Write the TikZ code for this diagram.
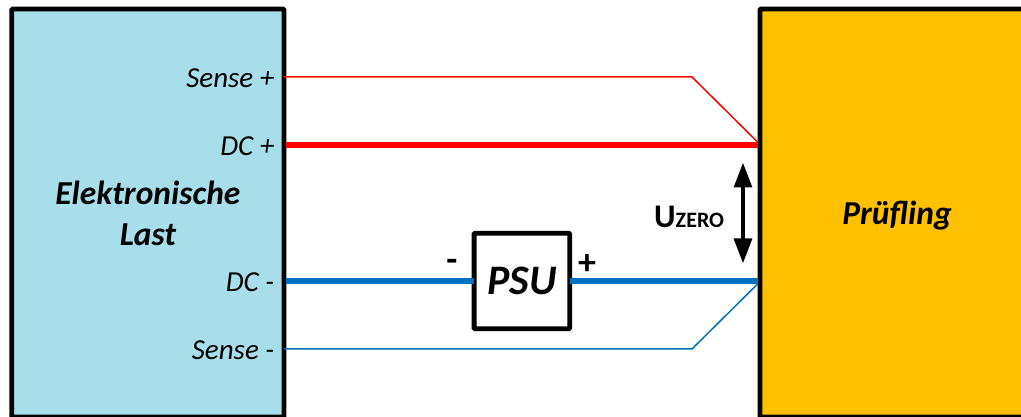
\documentclass[tikz,border=0pt]{standalone}
\usepackage{fontspec}
\setmainfont{Carlito}
\usetikzlibrary{arrows.meta}
\definecolor{lastblue}{HTML}{A7DEEA}
\definecolor{dutyellow}{HTML}{FFC000}
\definecolor{linered}{HTML}{FF0000}
\definecolor{lineblue}{HTML}{0070C0}
\tikzset{
	blockbox/.style={draw=black,line width=4.8pt,rounded corners=1pt,inner sep=0pt,outer sep=0pt,align=center,text=black},
	portlabel/.style={anchor=east,inner sep=0pt,font=\fontsize{29}{29}\selectfont\itshape},
	thinwire/.style={line width=1.5pt},
	thickwire/.style={line width=5.5pt}
}
\begin{document}
\begin{tikzpicture}[x=1pt,y=1pt]
	\useasboundingbox (0,0) rectangle (1021,417);
	\clip (0,0) rectangle (1021,417);
	% blocks
	\node[blockbox,fill=lastblue,minimum width=272.3pt,minimum height=408pt,font=\fontsize{33.5}{41}\selectfont\bfseries\itshape] (last) at (147.9,204) {Elektronische\\Last};
	\node[blockbox,fill=dutyellow,minimum width=300pt,minimum height=408pt] (dut) at (910,204) {};
	\node[inner sep=0pt,font=\fontsize{33.5}{33.5}\selectfont\bfseries\itshape] (duttext) at (897,201) {Prüfling};
	\node[blockbox,fill=white,minimum width=95.6pt,minimum height=95.6pt,font=\fontsize{42}{42}\selectfont\bfseries\itshape] (psu) at (521.9,136) {PSU};
	% ports
	\coordinate (sensep) at (284,340);
	\coordinate (dcp) at (286.4,272);
	\coordinate (dcn) at (286.4,136);
	\coordinate (sensen) at (284,68);
	\coordinate (kneep) at (692,340);
	\coordinate (kneen) at (692,68);
	\coordinate (dutsensep) at (757.6,275);
	\coordinate (dutdcp) at (757.6,272);
	\coordinate (dutdcn) at (757.6,136);
	\coordinate (dutsensen) at (757.6,133);
	% wires
	\draw[thinwire,linered] (sensep) -- (kneep) -- (dutsensep);
	\draw[thickwire,linered] (dcp) -- (dutdcp);
	\draw[thickwire,lineblue] (dcn) -- (psu.west);
	\draw[thickwire,lineblue] (psu.east) -- (dutdcn);
	\draw[thinwire,lineblue] (sensen) -- (kneen) -- (dutsensen);
	% labels
	\node[portlabel] (sensepl) at (274.5,339) {Sense +};
	\node[portlabel] (dcpl) at (274.5,271) {DC +};
	\node[portlabel] (dcnl) at (274.5,135) {DC -};
	\node[portlabel] (sensenl) at (274.5,67) {Sense -};
	\node[inner sep=0pt,font=\fontsize{36}{36}\selectfont\bfseries] (minus) at (452,152) {-};
	\node[inner sep=0pt,font=\fontsize{36}{36}\selectfont\bfseries] (plus) at (587,152) {+};
	% voltage
	\coordinate (utop) at (743,254.5);
	\coordinate (ubot) at (743,153.5);
	\draw[line width=4.5pt,{Triangle[length=25pt,width=17.5pt]}-{Triangle[length=25pt,width=17.5pt]}] (utop) -- (ubot);
	\node[inner sep=0pt,anchor=base west,font=\fontsize{33}{33}\selectfont] (uzero) at (654,189) {\textbf{U}\fontsize{22}{22}\selectfont\textbf{ZERO}};
\end{tikzpicture}
\end{document}
